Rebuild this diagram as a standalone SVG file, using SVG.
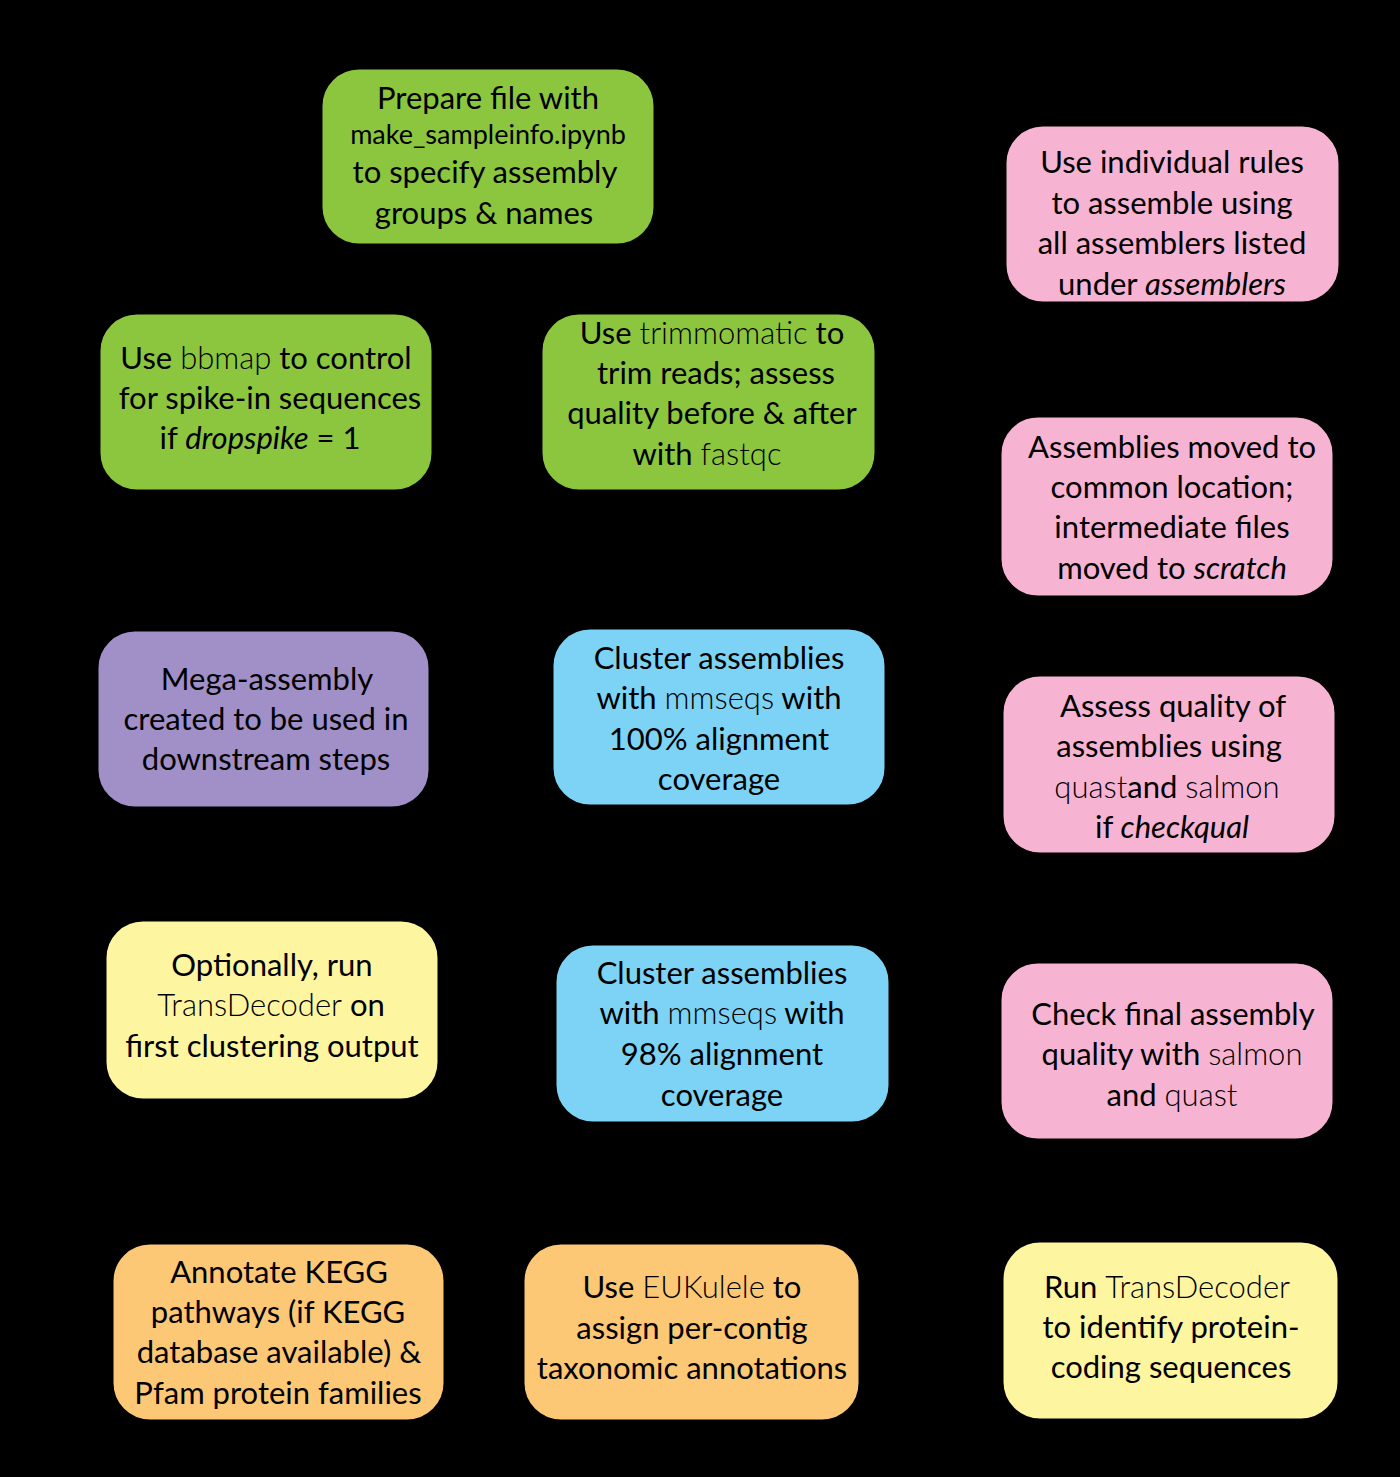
<svg xmlns="http://www.w3.org/2000/svg" width="1400" height="1477" viewBox="0 0 1400 1477">
<defs>
<style>
.box{stroke:#000;stroke-width:3}
.green{fill:#8cc63f}
.pink{fill:#f7b3d2}
.purple{fill:#a18fc7}
.blue{fill:#7dd3f5}
.yellow{fill:#fdf5a0}
.orange{fill:#fdc875}
text{font-family:Lato,"Fira Sans","Noto Sans",sans-serif;font-size:31px;fill:#000;text-anchor:middle}
.lt{font-weight:300}
.it{font-style:italic}
.sm{font-size:27px}
.conn{stroke:#000;stroke-width:3;fill:none}
</style>
<marker id="ah" viewBox="0 0 10 10" refX="9" refY="5" markerWidth="6" markerHeight="6" orient="auto"><path d="M0,0L10,5L0,10z" fill="#000"/></marker>
</defs>
<rect x="0" y="0" width="1400" height="1477" fill="#000"/>
<g id="connectors">
<path class="conn" d="M322,165 L190,313" marker-end="url(#ah)"/>
<path class="conn" d="M575,235 L620,313" marker-end="url(#ah)"/>
<path class="conn" d="M433,405 L541,410" marker-end="url(#ah)"/>
<path class="conn" d="M876,400 L1005,220" marker-end="url(#ah)"/>
<path class="conn" d="M1172,303 L1172,416" marker-end="url(#ah)"/>
<path class="conn" d="M1075,597 L1120,675" marker-end="url(#ah)"/>
<path class="conn" d="M1002,760 L886,655" marker-end="url(#ah)"/>
<path class="conn" d="M552,745 L430,745" marker-end="url(#ah)"/>
<path class="conn" d="M600,806 L380,920" marker-end="url(#ah)"/>
<path class="conn" d="M439,1060 L555,1040" marker-end="url(#ah)"/>
<path class="conn" d="M890,1015 L1230,962" marker-end="url(#ah)"/>
<path class="conn" d="M890,1065 L1002,1330" marker-end="url(#ah)"/>
<path class="conn" d="M1002,1330 L860,1330" marker-end="url(#ah)"/>
<path class="conn" d="M523,1330 L445,1330" marker-end="url(#ah)"/>
</g>
<g id="n1"><rect class="box green" x="321" y="68" width="334" height="177" rx="38"/>
<text x="488" y="109">Prepare file with</text>
<text x="488" y="144" class="sm">make_sampleinfo.ipynb</text>
<text x="485" y="183">to specify assembly</text>
<text x="484" y="224">groups &amp; names</text></g>
<g id="n2"><rect class="box green" x="99" y="313" width="334" height="178" rx="38"/>
<text x="266" y="369">Use <tspan class="lt">bbmap</tspan> to control</text>
<text x="270" y="409">for spike-in sequences</text>
<text x="260" y="449">if <tspan class="it">dropspike</tspan> = 1</text></g>
<g id="n3"><rect class="box green" x="541" y="313" width="335" height="178" rx="38"/>
<text x="712" y="344">Use <tspan class="lt">trimmomatic</tspan> to</text>
<text x="716" y="384">trim reads; assess</text>
<text x="712" y="424">quality before &amp; after</text>
<text x="707" y="465">with <tspan class="lt">fastqc</tspan></text></g>
<g id="n4"><rect class="box pink" x="1005" y="125" width="335" height="178" rx="38"/>
<text x="1172" y="173">Use individual rules</text>
<text x="1172" y="214">to assemble using</text>
<text x="1172" y="254">all assemblers listed</text>
<text x="1172" y="295">under <tspan class="it">assemblers</tspan></text></g>
<g id="n5"><rect class="box pink" x="1000" y="416" width="334" height="181" rx="38"/>
<text x="1172" y="458">Assemblies moved to</text>
<text x="1172" y="498">common location;</text>
<text x="1172" y="538">intermediate files</text>
<text x="1172" y="579">moved to <tspan class="it">scratch</tspan></text></g>
<g id="n6"><rect class="box purple" x="97" y="630" width="333" height="178" rx="38"/>
<text x="267" y="690">Mega-assembly</text>
<text x="266" y="730">created to be used in</text>
<text x="266" y="770">downstream steps</text></g>
<g id="n7"><rect class="box blue" x="552" y="628" width="334" height="178" rx="38"/>
<text x="719" y="669">Cluster assemblies</text>
<text x="719" y="709">with <tspan class="lt">mmseqs</tspan> with</text>
<text x="719" y="750">100% alignment</text>
<text x="719" y="790">coverage</text></g>
<g id="n8"><rect class="box pink" x="1002" y="675" width="334" height="179" rx="38"/>
<text x="1173" y="717">Assess quality of</text>
<text x="1169" y="757">assemblies using</text>
<text x="1167" y="798"><tspan class="lt">quast</tspan>and <tspan class="lt">salmon</tspan></text>
<text x="1172" y="838">if <tspan class="it">checkqual</tspan></text></g>
<g id="n9"><rect class="box yellow" x="105" y="920" width="334" height="180" rx="38"/>
<text x="272" y="976">Optionally, run</text>
<text x="271" y="1016"><tspan class="lt">TransDecoder</tspan> on</text>
<text x="272" y="1057">first clustering output</text></g>
<g id="n10"><rect class="box blue" x="555" y="944" width="335" height="179" rx="38"/>
<text x="722" y="984">Cluster assemblies</text>
<text x="722" y="1024">with <tspan class="lt">mmseqs</tspan> with</text>
<text x="722" y="1065">98% alignment</text>
<text x="722" y="1106">coverage</text></g>
<g id="n11"><rect class="box pink" x="1000" y="962" width="334" height="178" rx="38"/>
<text x="1173" y="1025">Check final assembly</text>
<text x="1172" y="1065">quality with <tspan class="lt">salmon</tspan></text>
<text x="1172" y="1106">and <tspan class="lt">quast</tspan></text></g>
<g id="n12"><rect class="box orange" x="112" y="1243" width="333" height="178" rx="38"/>
<text x="279" y="1283">Annotate KEGG</text>
<text x="278" y="1323">pathways (if KEGG</text>
<text x="279" y="1363">database available) &amp;</text>
<text x="278" y="1404">Pfam protein families</text></g>
<g id="n13"><rect class="box orange" x="523" y="1243" width="337" height="178" rx="38"/>
<text x="692" y="1298">Use <tspan class="lt">EUKulele</tspan> to</text>
<text x="692" y="1339">assign per-contig</text>
<text x="692" y="1379">taxonomic annotations</text></g>
<g id="n14"><rect class="box yellow" x="1002" y="1241" width="337" height="179" rx="38"/>
<text x="1167" y="1298">Run <tspan class="lt">TransDecoder</tspan></text>
<text x="1171" y="1338">to identify protein-</text>
<text x="1171" y="1378">coding sequences</text></g>
</svg>
